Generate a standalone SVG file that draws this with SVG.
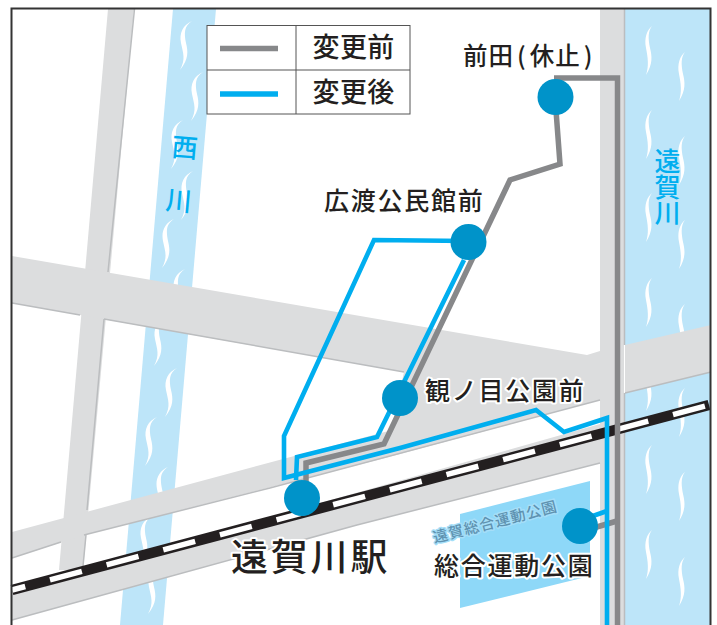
<svg xmlns="http://www.w3.org/2000/svg" xmlns:xlink="http://www.w3.org/1999/xlink" width="717" height="625" viewBox="0 0 717 625">
<style>
text{font-family:"Noto Sans CJK JP","Noto Sans",sans-serif;fill:#231f20;font-weight:500}
.road{fill:#dcddde}
.river{fill:#bde5f9}
.sh{fill:none;stroke:#bbbdbf;stroke-width:1.5}
.old{fill:none;stroke:#87888a;stroke-width:5.500}
.new{fill:none;stroke:#00aeef;stroke-width:4.600}
.st{fill:#0093c9}
.lb{font-size:25px;letter-spacing:1.750px;stroke:#fff;stroke-width:4px;paint-order:stroke;stroke-linejoin:round}
.rv{font-size:26px}
.lg{font-size:27px;letter-spacing:.4px}
</style>
<defs>
<path id="w" fill="#fff" d="M12 0C3 4-1 12 1 22C3 32 6 38 0 49C9 38 8 30 6 22C4 12 4 5 12 0Z"/>
<path id="v" fill="#fff" d="M6 0C1 4-2 12 0 22C2 32 3 40 0 49C7 38 6 30 4 22C2 12 2 5 6 0Z"/>
</defs>
<rect width="717" height="625" fill="#fff"/>
<g id="rivers">
<polygon class="river" points="173,9 216,9 163,625 120,625"/>
<rect class="river" x="625" y="9" width="85" height="616"/>
<use xlink:href="#w" href="#w" x="180" y="21"/><use xlink:href="#w" href="#w" x="191" y="72"/><use xlink:href="#w" href="#w" x="171" y="120"/><use xlink:href="#w" href="#w" x="181" y="171"/><use xlink:href="#w" href="#w" x="162" y="219"/><use xlink:href="#w" href="#w" x="173" y="269"/><use xlink:href="#w" href="#w" x="154" y="317"/><use xlink:href="#w" href="#w" x="165" y="368"/><use xlink:href="#w" href="#w" x="145" y="417"/><use xlink:href="#w" href="#w" x="156" y="467"/><use xlink:href="#w" href="#w" x="140" y="516"/><use xlink:href="#w" href="#w" x="148" y="565"/>
<use xlink:href="#v" href="#v" x="646" y="26"/><use xlink:href="#v" href="#v" x="646" y="110"/><use xlink:href="#v" href="#v" x="646" y="193"/><use xlink:href="#v" href="#v" x="646" y="278"/><use xlink:href="#v" href="#v" x="646" y="362"/><use xlink:href="#v" href="#v" x="646" y="445"/><use xlink:href="#v" href="#v" x="646" y="530"/>
<use xlink:href="#v" href="#v" x="679" y="52"/><use xlink:href="#v" href="#v" x="679" y="136"/><use xlink:href="#v" href="#v" x="679" y="220"/><use xlink:href="#v" href="#v" x="679" y="304"/><use xlink:href="#v" href="#v" x="679" y="388"/><use xlink:href="#v" href="#v" x="679" y="472"/><use xlink:href="#v" href="#v" x="679" y="557"/>
<text class="rv" transform="translate(171,156) rotate(5)" style="fill:#00aeef">西</text>
<text class="rv" transform="translate(165,209) rotate(5)" style="fill:#00aeef">川</text>
<text class="rv" x="667.500" y="148" style="fill:#00aeef;writing-mode:vertical-rl">遠賀川</text>
</g>
<g id="roads">
<polygon class="road" points="108,9 134,9 83,570 59,570"/>
<polygon class="road" points="12,256 587,355 600,351 600,400 385,458 404,372 12,303"/>
<polygon class="road" points="12,532 283,459 396,429 385,458 84,535 12,558"/>
<polygon class="road" points="625,345 711,325 711,372 625,393"/>
<polygon class="road" points="12,590 600,424 600,463 357,525 12,620"/>
<rect class="road" x="600" y="9" width="24" height="616"/>
<path class="sh" d="M134.500 9L108 272M104 319L87 510M86 535L83 566M12 303L80 315M104 319L404 372M12 558L61 542M84 535L270 488L600 400M12 620L357 525L600 463M625 393L711 372M624.500 9V345M624.500 393V625"/>
</g>
<g id="railway">
<path d="M12 590L709 405" fill="none" stroke="#231f20" stroke-width="10.500"/>
<path d="M12 590L709 405" fill="none" stroke="#fff" stroke-width="5.500" stroke-dasharray="33 25.600" stroke-dashoffset="19.300"/>
</g>
<polygon id="park" fill="#8ed8f8" points="460,514 590,481 590,576 460,608"/>
<g id="connectors">
<path class="old" d="M555 97L560 164L510 180L384 444L306 463V490"/>
<path class="old" d="M554 78H617.500V625"/>
<path class="old" d="M590 529L617 521"/>
<path class="new" d="M468 241L374 240L284 436V478L400 448L536 410L564 432L607 418V625"/>
<path class="new" d="M464 260L377 437L297 457L296 480"/>
<path class="new" d="M590 517L607 511"/>
</g>
<g id="legend">
<rect x="207" y="25.500" width="203" height="88.500" fill="#fff" stroke="#555" stroke-width="1"/>
<path d="M207 70H410M296 25.500V114" fill="none" stroke="#555" stroke-width="1"/>
<path d="M220 48.500H278" stroke="#87888a" stroke-width="5.500"/>
<path d="M220 94H278" stroke="#00aeef" stroke-width="5.500"/>
<text class="lg" x="312.500" y="57">変更前</text>
<text class="lg" x="312.500" y="102">変更後</text>
</g>
<g id="node-maeda"><circle class="st" cx="555.500" cy="97" r="18"/><text x="463" y="65" style="font-size:24.500px;letter-spacing:1px">前田<tspan dx="3">(</tspan><tspan dx="3">休止</tspan><tspan dx="3">)</tspan></text></g>
<g id="node-hirowatari"><circle class="st" cx="468.500" cy="242" r="18"/><text class="lb" x="324" y="210">広渡公民館前</text></g>
<g id="node-kannome"><circle class="st" cx="400" cy="398" r="18"/><text class="lb" x="425" y="400">観ノ目公園前</text></g>
<g id="node-station"><circle class="st" cx="302" cy="498" r="18"/><text class="lb" x="231" y="571" style="font-size:37px;letter-spacing:2.800px">遠賀川駅</text></g>
<g id="node-park"><circle class="st" cx="580" cy="526" r="18"/><text class="lb" x="434" y="575">総合運動公園</text>
<text transform="translate(434.500,543) rotate(-14.500)" style="font-size:15px;letter-spacing:1px;fill:#5f92b0;stroke:#a5def8;stroke-width:3px;paint-order:stroke;stroke-linejoin:round">遠賀総合運動公園</text></g>
<path id="frame" d="M11.500 640V8.500H710.500V640" fill="none" stroke="#333" stroke-width="2"/>
</svg>
